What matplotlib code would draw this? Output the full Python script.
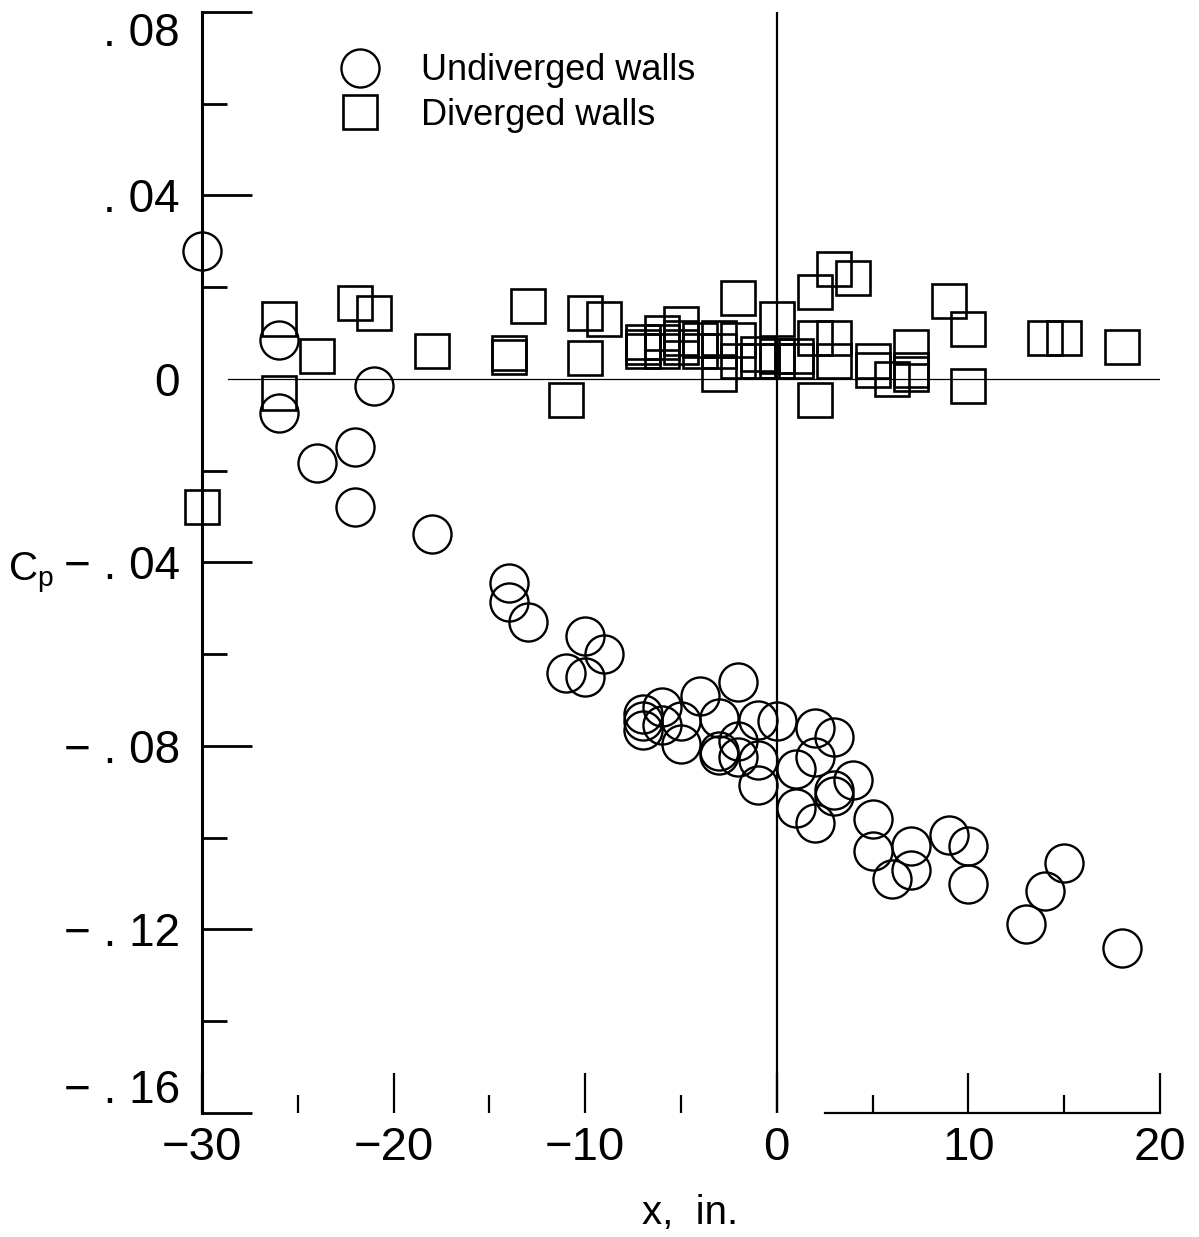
import matplotlib
matplotlib.use("Agg")
import matplotlib.pyplot as plt

# ---------------- data ----------------
# Undiverged walls (circles)
und_x = [-30, -26, -26, -24, -22, -22, -21, -18,
         -14, -14, -13, -11, -10, -10, -9,
         -7, -7, -7, -6, -6, -5, -5, -4,
         -3, -3, -3, -2, -2, -2, -1, -1, -1, 0,
         1, 1, 2, 2, 2, 3, 3, 3, 4,
         5, 5, 6, 7, 7, 9, 10, 10, 13, 14, 15, 18]
und_cp = [0.028, 0.0085, -0.0074, -0.0183, -0.0148, -0.028, -0.0015, -0.0338,
          -0.0445, -0.0487, -0.053, -0.064, -0.056, -0.065, -0.060,
          -0.073, -0.0745, -0.0765, -0.0715, -0.0755, -0.0745, -0.0795, -0.069,
          -0.0740, -0.0810, -0.0820, -0.066, -0.0790, -0.0825, -0.0744, -0.0830, -0.0885, -0.0745,
          -0.085, -0.0936, -0.076, -0.0824, -0.0967, -0.078, -0.0897, -0.091, -0.0875,
          -0.096, -0.1028, -0.109, -0.1017, -0.1071, -0.0995, -0.1017, -0.110, -0.1187, -0.1115, -0.1056, -0.124]

# Diverged walls (squares)
div_x = [-30, -26, -26, -24, -22, -21, -18,
         -14, -14, -13, -11, -10, -10, -9,
         -7, -7, -7, -6, -6, -6, -5, -5, -5, -4, -4,
         -3, -3, -3, -2, -2, -2, -1, -1, 0, 0, 0,
         1, 1, 2, 2, 2, 3, 3, 3, 4,
         5, 5, 6, 7, 7, 7, 9, 10, 10, 14, 15, 18]
div_cp = [-0.028, 0.013, -0.003, 0.005, 0.0166, 0.0144, 0.006,
          0.0056, 0.0049, 0.016, -0.0046, 0.0144, 0.0046, 0.013,
          0.008, 0.007, 0.006, 0.010, 0.008, 0.006, 0.012, 0.009, 0.007, 0.0085, 0.006,
          0.009, 0.006, 0.001, 0.0177, 0.0085, 0.004, 0.0055, 0.004, 0.013, 0.005, 0.004,
          0.005, 0.004, 0.019, 0.009, -0.0046, 0.024, 0.009, 0.004, 0.022,
          0.004, 0.002, 0.0, 0.007, 0.002, 0.001, 0.017, 0.011, -0.0015, 0.009, 0.009, 0.007]

x_major = [-30, -20, -10, 0, 10, 20]
x_minor = [-25, -15, -5, 5, 15]
x_labels = ["\u221230", "\u221220", "\u221210", "0", "10", "20"]
y_major = [0.08, 0.04, 0.0, -0.04, -0.08, -0.12, -0.16]
y_minor = [0.06, 0.02, -0.02, -0.06, -0.10, -0.14]
y_labels = [". 08", ". 04", "0", "\u2212 . 04", "\u2212 . 08", "\u2212 . 12", "\u2212 . 16"]

# ---------------- style ----------------
FAM = ["Liberation Sans", "DejaVu Sans"]
plt.rcParams["font.family"] = FAM
plt.rcParams["mathtext.fontset"] = "custom"
plt.rcParams["mathtext.rm"] = "Liberation Sans"

fig = plt.figure(figsize=(11.99, 12.37), dpi=100)
ax = fig.add_axes([202 / 1199, 1 - 1113 / 1237, 958 / 1199, 1101 / 1237])
ax.set_xlim(-30, 20)
ax.set_ylim(-0.16, 0.08)

ax.plot(und_x, und_cp, linestyle="none", marker="o", ms=27.4, mfc="none",
        mec="black", mew=1.7, label="Undiverged walls", zorder=3, clip_on=False)
ax.plot(div_x, div_cp, linestyle="none", marker="s", ms=24.8, mfc="none",
        mec="black", mew=1.9, label="Diverged walls", zorder=3, clip_on=False)

ax.axvline(0, color="black", lw=1.6, zorder=2)
ax.axhline(0, xmin=0.027, xmax=1.0, color="black", lw=0.9, zorder=2)

for s in ["top", "right"]:
    ax.spines[s].set_visible(False)
ax.spines["left"].set_linewidth(2.2)
ax.spines["bottom"].set_linewidth(1.6)
ax.spines["bottom"].set_bounds(2.5, 20)

ax.set_xticks(x_major)
ax.set_xticks(x_minor, minor=True)
ax.set_xticklabels(x_labels, fontsize=34)
ax.set_yticks(y_major)
ax.set_yticks(y_minor, minor=True)
ax.set_yticklabels(y_labels, fontsize=33)

ax.tick_params(axis="x", which="major", direction="in", length=29, width=1.6, pad=9)
ax.tick_params(axis="x", which="minor", direction="in", length=13, width=1.6)
ax.tick_params(axis="y", which="major", direction="in", length=36, width=2.0, pad=16)
ax.tick_params(axis="y", which="minor", direction="in", length=18, width=2.0)

# no tick mark at y = 0 (zero line starts a bit inside)
ax.yaxis.get_major_ticks()[2].tick1line.set_visible(False)
ylabs = ax.get_yticklabels()
ylabs[0].set_va("top")
ylabs[-1].set_va("bottom")

ax.set_xlabel("x,  in.", fontsize=29)
ax.xaxis.set_label_coords((690 - 202) / 958, -0.074)

fig.text(8 / 1199, 1 - 572 / 1237, r"$\mathrm{C_p}$", fontsize=29, va="center", ha="left")

leg = ax.legend(loc="upper left", bbox_to_anchor=(0.146, 0.9625), frameon=False,
                fontsize=26, handlelength=1.0, handletextpad=1.2,
                labelspacing=0.26, borderpad=0, borderaxespad=0, numpoints=1)

fig.savefig("out.png", dpi=100)
